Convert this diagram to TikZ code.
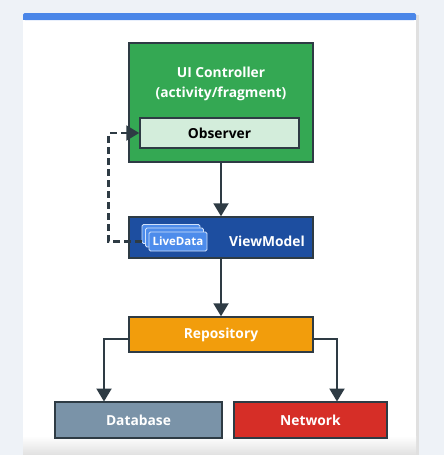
\documentclass[tikz,border=0pt]{standalone}
\usepackage{fontspec}
\setmainfont{Open Sans}
\usetikzlibrary{arrows.meta, positioning, calc}
\definecolor{avBack}{HTML}{EEF2F7}
\definecolor{avBar}{HTML}{4A86E8}
\definecolor{avInk}{HTML}{2E3B44}
\definecolor{avGreen}{HTML}{34A853}
\definecolor{avMint}{HTML}{D3EDDB}
\definecolor{avNavy}{HTML}{1D4EA0}
\definecolor{avSky}{HTML}{4D8CEB}
\definecolor{avOrange}{HTML}{F29D0C}
\definecolor{avSlate}{HTML}{7A93A8}
\definecolor{avRed}{HTML}{D62E27}
\tikzset{
  box/.style={
    draw=avInk, line width=1.5pt, inner sep=0pt,
    font=\fontsize{13.8}{17}\selectfont\bfseries, text=white
  },
  card/.style={
    draw=white!75!avSky, line width=0.9pt, fill=avSky, rounded corners=1.5pt,
    minimum width=58pt, minimum height=19pt, inner sep=0pt,
    font=\fontsize{11.5}{13}\selectfont\bfseries, text=white
  },
  link/.style={-{Triangle[length=13pt, width=15pt]}, line width=2.2pt, draw=avInk},
  watch/.style={link, dash pattern=on 7pt off 4pt},
}

\begin{document}
\begin{tikzpicture}[x=1pt, y=-1pt]
  % backdrop and card
  \fill[avBack] (0,0) rectangle (444,455);
  \fill[black!12] (25,15) rectangle (419,455);
  \fill[white] (23,13) rectangle (416,455);
  \shade[top color=white, bottom color=black!12] (23,436) rectangle (416,455);
  \fill[avBar, rounded corners=2pt] (23,13) rectangle (416,20);
  \fill[avBar] (23,17) rectangle (416,20);
  \useasboundingbox (0,0) rectangle (444,455);

  % boxes
  \node[box, fill=avGreen, minimum width=184pt, minimum height=119pt] (ui) at (221,102.5) {};
  \node[align=center, text=white, font=\fontsize{13.8}{20}\selectfont\bfseries] (uititle) at (221,84)
    {UI Controller\\(activity/fragment)};
  \node[box, fill=avMint, text=black, minimum width=159pt, minimum height=30pt] (obs) at (219.5,133) {Observer};

  \node[box, fill=avNavy, minimum width=184pt, minimum height=41pt] (vm) at (221,237.5) {};
  \node[text=white, font=\fontsize{13.8}{17}\selectfont\bfseries] (vmtext) at (267,241) {ViewModel};
  \node[card] (ldb) at (171,234) {};
  \node[card] (ldm) at (174.5,237.5) {};
  \node[card] (ld) at (178,241.5) {LiveData};

  \node[box, fill=avOrange, minimum width=184pt, minimum height=35pt] (repo) at (221,334.5) {Repository};
  \node[box, fill=avSlate, minimum width=167pt, minimum height=36pt] (db) at (138.5,420) {Database};
  \node[box, fill=avRed, minimum width=153pt, minimum height=36pt] (net) at (310.5,420) {Network};

  \coordinate (dbin) at (104,401.5);
  \coordinate (netin) at (337,401.5);

  % connectors
  \draw[link] (ui) -- (vm);
  \draw[link] (vm) -- (repo);
  \draw[link] ([yshift=-4.5pt]repo.west) -| (dbin);
  \draw[link] ([yshift=-4.5pt]repo.east) -| (netin);
  \draw[watch] (ld.west -| ldb.west) -- ++(-33,0) |- (obs.west);
\end{tikzpicture}
\end{document}
